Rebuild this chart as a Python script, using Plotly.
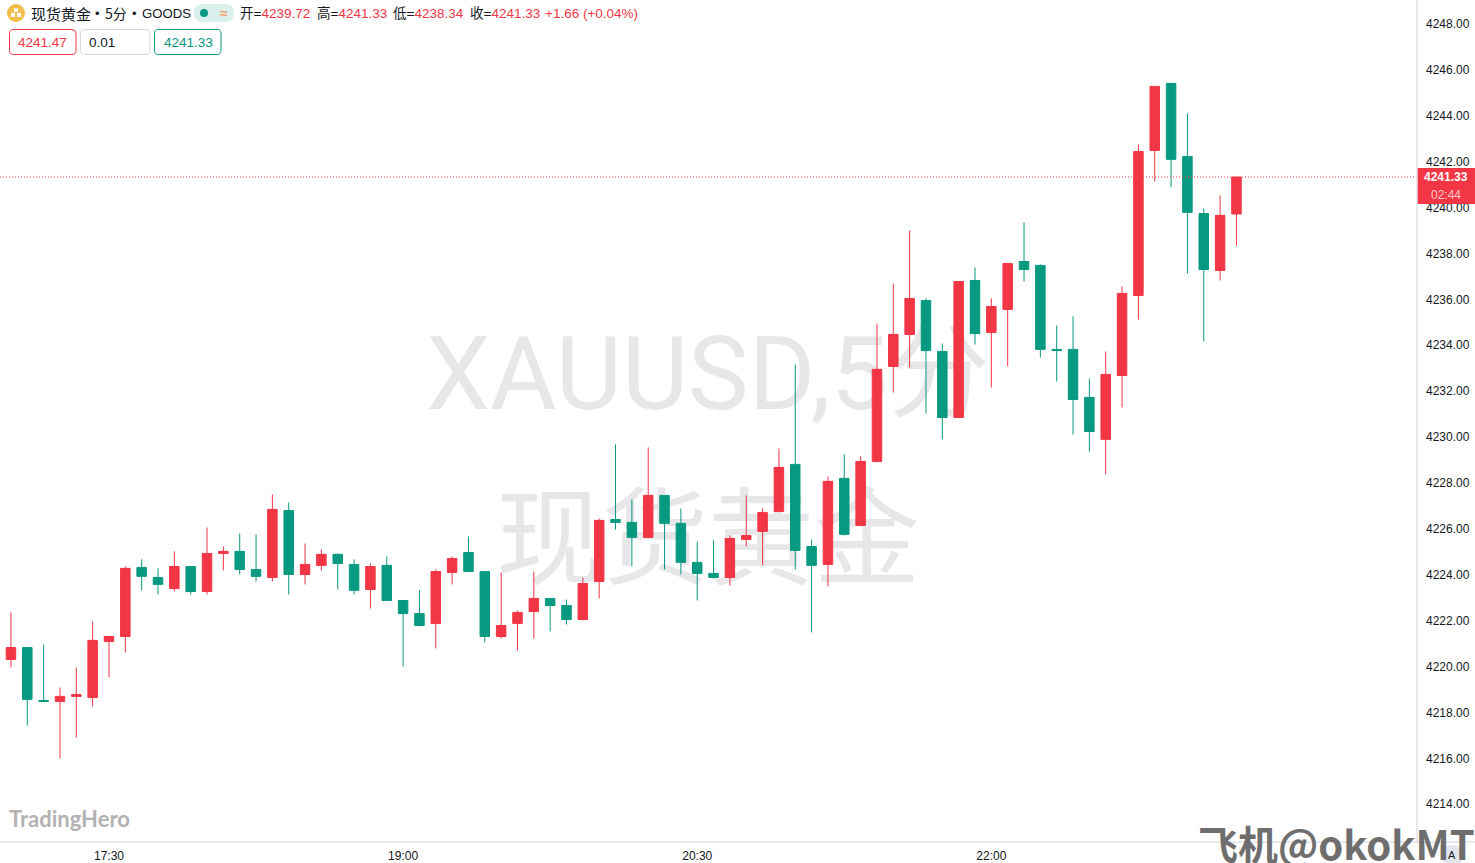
import plotly.graph_objects as go
import pandas as pd

times = list(pd.date_range("2025-12-05 17:00", periods=76, freq="5min").strftime("%H:%M"))

opens = [4220.31,4220.83,4218.52,4218.48,4218.70,4218.65,4221.09,4221.31,4224.32,4223.88,
         4223.40,4224.36,4223.27,4224.93,4225.02,4224.23,4223.88,4226.80,4224.01,4224.41,
         4224.89,4224.45,4223.36,4224.41,4222.88,4222.31,4221.88,4224.10,4224.97,4224.14,
         4221.31,4221.88,4222.40,4222.97,4222.66,4222.05,4223.71,4226.41,4226.28,4225.63,
         4227.46,4226.24,4224.54,4224.06,4223.88,4225.54,4225.89,4226.76,4228.81,4225.23,
         4224.45,4228.20,4226.15,4228.94,4233.08,4234.47,4235.95,4233.73,4230.85,4236.82,
         4234.56,4235.56,4237.65,4237.48,4233.82,4233.82,4231.73,4229.90,4232.68,4236.17,
         4242.49,4245.41,4242.23,4239.74,4237.26,4239.72]
highs = [4222.36,4220.83,4220.96,4219.09,4219.96,4221.97,4221.31,4224.36,4224.67,4224.28,
         4225.02,4224.36,4226.06,4225.23,4225.80,4225.76,4227.50,4227.15,4225.36,4225.10,
         4224.93,4224.67,4224.49,4224.80,4222.88,4223.32,4224.23,4224.80,4225.67,4224.14,
         4224.10,4222.44,4224.14,4222.97,4222.92,4223.88,4226.45,4229.68,4227.28,4229.55,
         4227.46,4226.89,4225.45,4225.50,4225.71,4227.46,4226.89,4229.50,4233.16,4225.54,
         4228.28,4229.24,4229.16,4234.95,4236.69,4239.00,4236.04,4234.08,4236.78,4237.39,
         4236.04,4237.56,4239.35,4237.52,4234.86,4235.26,4232.55,4233.73,4236.56,4242.75,
         4245.28,4245.41,4244.10,4239.96,4240.53,4241.33]
lows = [4219.96,4217.43,4218.44,4216.00,4216.91,4218.26,4219.53,4220.61,4223.32,4223.14,
        4223.27,4223.14,4223.14,4224.19,4224.01,4223.71,4223.71,4223.14,4223.58,4224.19,
        4223.36,4223.14,4222.53,4222.88,4220.00,4221.75,4220.79,4223.58,4224.14,4221.05,
        4221.22,4220.70,4221.22,4221.53,4221.83,4222.01,4222.97,4225.97,4224.36,4225.58,
        4224.23,4224.01,4222.88,4223.84,4223.53,4225.23,4224.41,4226.76,4224.23,4221.49,
        4223.49,4225.71,4226.15,4228.89,4231.94,4233.03,4231.03,4229.90,4230.85,4234.03,
        4232.16,4233.08,4236.78,4233.47,4232.42,4230.11,4229.37,4228.37,4231.29,4235.12,
        4241.14,4240.88,4237.13,4234.17,4236.82,4238.34]
closes = [4220.83,4218.57,4218.48,4218.70,4218.78,4221.14,4221.31,4224.28,4223.93,4223.58,
          4224.36,4223.27,4224.93,4225.02,4224.23,4223.93,4226.85,4224.01,4224.45,4224.89,
          4224.49,4223.32,4224.36,4222.88,4222.31,4221.79,4224.14,4224.71,4224.14,4221.31,
          4221.79,4222.36,4222.97,4222.66,4222.05,4223.62,4226.37,4226.28,4225.63,4227.46,
          4226.24,4224.54,4224.06,4223.88,4225.58,4225.71,4226.71,4228.68,4225.06,4224.41,
          4228.07,4225.76,4228.94,4232.95,4234.47,4236.04,4233.77,4230.85,4236.78,4234.51,
          4235.69,4237.56,4237.30,4233.82,4233.77,4231.64,4230.24,4232.73,4236.26,4242.44,
          4245.28,4242.10,4239.79,4237.30,4239.66,4241.33]

time_ticks = ["17:30", "19:00", "20:30", "22:00"]
price_ticks = [4214 + 2 * i for i in range(18)]
last_price = 4241.33

UP = "#F23645"
DOWN = "#089981"
AXIS = "#E0E3EB"
INK = "#131722"
SANS = "Liberation Sans, Noto Sans CJK SC, sans-serif"
CJK = "Noto Sans CJK SC, sans-serif"

fig = go.Figure(go.Candlestick(
    x=times, open=opens, high=highs, low=lows, close=closes,
    increasing=dict(line=dict(color=UP, width=1), fillcolor=UP),
    decreasing=dict(line=dict(color=DOWN, width=1), fillcolor=DOWN),
    whiskerwidth=0, showlegend=False, hoverinfo="skip",
))


def px_x(v):
    return v / 1417


def px_y(v):
    return 1 - v / 842


def label(text, x, y, size, color, anchor="left", family=SANS, yanchor="middle"):
    fig.add_annotation(text=text, x=px_x(x), y=px_y(y), xref="paper", yref="paper",
                       xanchor=anchor, yanchor=yanchor, showarrow=False, align=anchor,
                       font=dict(family=family, size=size, color=color),
                       borderpad=0, borderwidth=0)


def box(x0, y0, x1, y1, line=None, fill="rgba(0,0,0,0)", kind="rect", layer="above"):
    fig.add_shape(type=kind, xref="paper", yref="paper", layer=layer,
                  x0=px_x(x0), x1=px_x(x1), y0=px_y(y0), y1=px_y(y1),
                  line=dict(color=line or "rgba(0,0,0,0)", width=1 if line else 0),
                  fillcolor=fill)


def rounded(x0, y0, x1, y1, r, line=None, fill="rgba(0,0,0,0)"):
    def pt(x, y):
        return f"{px_x(x):.6f},{px_y(y):.6f}"
    path = (f"M {pt(x0 + r, y0)} L {pt(x1 - r, y0)} Q {pt(x1, y0)} {pt(x1, y0 + r)} "
            f"L {pt(x1, y1 - r)} Q {pt(x1, y1)} {pt(x1 - r, y1)} "
            f"L {pt(x0 + r, y1)} Q {pt(x0, y1)} {pt(x0, y1 - r)} "
            f"L {pt(x0, y0 + r)} Q {pt(x0, y0)} {pt(x0 + r, y0)} Z")
    fig.add_shape(type="path", xref="paper", yref="paper", path=path, layer="above",
                  line=dict(color=line or "rgba(0,0,0,0)", width=1 if line else 0),
                  fillcolor=fill)


# watermark, under the candles
for text, size, family, y0, y1 in [("XAUUSD,5分", 102, "Roboto, Noto Sans CJK SC, sans-serif", 317, 417),
                                   ("现货黄金", 106, CJK, 492, 602)]:
    fig.add_shape(type="rect", xref="paper", yref="paper", layer="below",
                  x0=px_x(408), x1=px_x(1008), y0=px_y(y0), y1=px_y(y1),
                  line=dict(width=0), fillcolor="rgba(0,0,0,0)",
                  label=dict(text=text, textposition="middle center",
                             font=dict(family=family, size=size, color="#E7E7E9")))

# last price line and tag
fig.add_shape(type="line", xref="paper", yref="y", x0=0, x1=1, y0=last_price, y1=last_price,
              line=dict(color=UP, width=1, dash="1px,2px"), layer="above")
box(1417, 168, 1475, 204, fill=UP)
label("<b>4241.33</b>", 1446.5, 177, 12, "#FFFFFF", "center")
label("02:44", 1446.5, 195, 12, "#FBC7CC", "center")

# axis borders
box(1417, 0, 1417.01, 842, line=AXIS)
box(0, 842, 1475, 842.01, line=AXIS)

# header
box(7, 4, 25, 22, fill="#F2BC4B", kind="circle")
box(14, 8.5, 18, 12, fill="#FFFFFF")
box(11, 13, 15, 17, fill="#FFFFFF")
box(17, 13, 21, 17, fill="#FFFFFF")
label("现货黄金", 31, 13, 15, INK, family=CJK)
label("•", 97, 13, 13, INK, "center")
label("5分", 105, 13, 14, INK, family=CJK)
label("•", 134, 13, 13, INK, "center")
label("GOODS", 142, 13, 13.2, INK)
rounded(194, 4, 234, 22, 9, fill="#D9F0EC")
box(200, 9, 208, 17, fill=DOWN, kind="circle")
label("<b>≈</b>", 224, 13, 14, "#F7A06B", "center")
for start, caption, value in [(240, "开=", "4239.72"), (317, "高=", "4241.33"),
                              (393, "低=", "4238.34"), (470, "收=", "4241.33")]:
    label(f"{caption}<span style='color:{UP}'>{value}</span>", start, 13, 13.5, INK)
label("+1.66 (+0.04%)", 545, 13, 13.5, UP)

rounded(9.5, 29.5, 76, 54.5, 4, line=UP, fill="#FFFFFF")
label("4241.47", 42.5, 43, 13.5, UP, "center")
rounded(80.5, 29.5, 150, 54.5, 4, line="#D6D8E0", fill="#FFFFFF")
label("0.01", 89, 43, 13.5, INK)
rounded(154.5, 29.5, 221, 54.5, 4, line=DOWN, fill="#FFFFFF")
label("4241.33", 188, 43, 13.5, DOWN, "center")

# logos
label("<b>TradingHero</b>", 9, 818, 22, "#B2B2B2", family="Lato, sans-serif")
box(1441, 845, 1463, 867, fill="#E4E6EE", kind="circle")
label("<b>飞机@okokMT</b>", 1475, 843, 40, "#6E6E6E", "right", family=CJK)
label("A", 1452, 855, 11, INK, "center")

fig.update_layout(
    width=1475, height=863, autosize=False,
    margin=dict(l=0, r=58, t=0, b=21),
    paper_bgcolor="#FFFFFF", plot_bgcolor="#FFFFFF",
    boxgap=0.17, showlegend=False, dragmode=False,
    font=dict(family=SANS, size=12, color=INK),
    xaxis=dict(type="category", categoryorder="array", categoryarray=times,
               range=[-0.67, 86.05], rangeslider=dict(visible=False),
               showgrid=False, zeroline=False, showline=False,
               tickmode="array", tickvals=time_ticks, ticktext=time_ticks,
               ticks="", ticklabelstandoff=5, tickfont=dict(size=12, color=INK)),
    yaxis=dict(side="right", range=[4212.356, 4249.044], showgrid=False, zeroline=False,
               showline=False, tickmode="array", tickvals=price_ticks,
               ticktext=[f"{p:.2f}" for p in price_ticks], ticks="", ticklabelstandoff=8,
               tickfont=dict(size=12, color=INK)),
)

fig.write_html("out.html", config=dict(displayModeBar=False),
               post_script="document.body.style.margin='0';document.documentElement.style.overflow='hidden';")
